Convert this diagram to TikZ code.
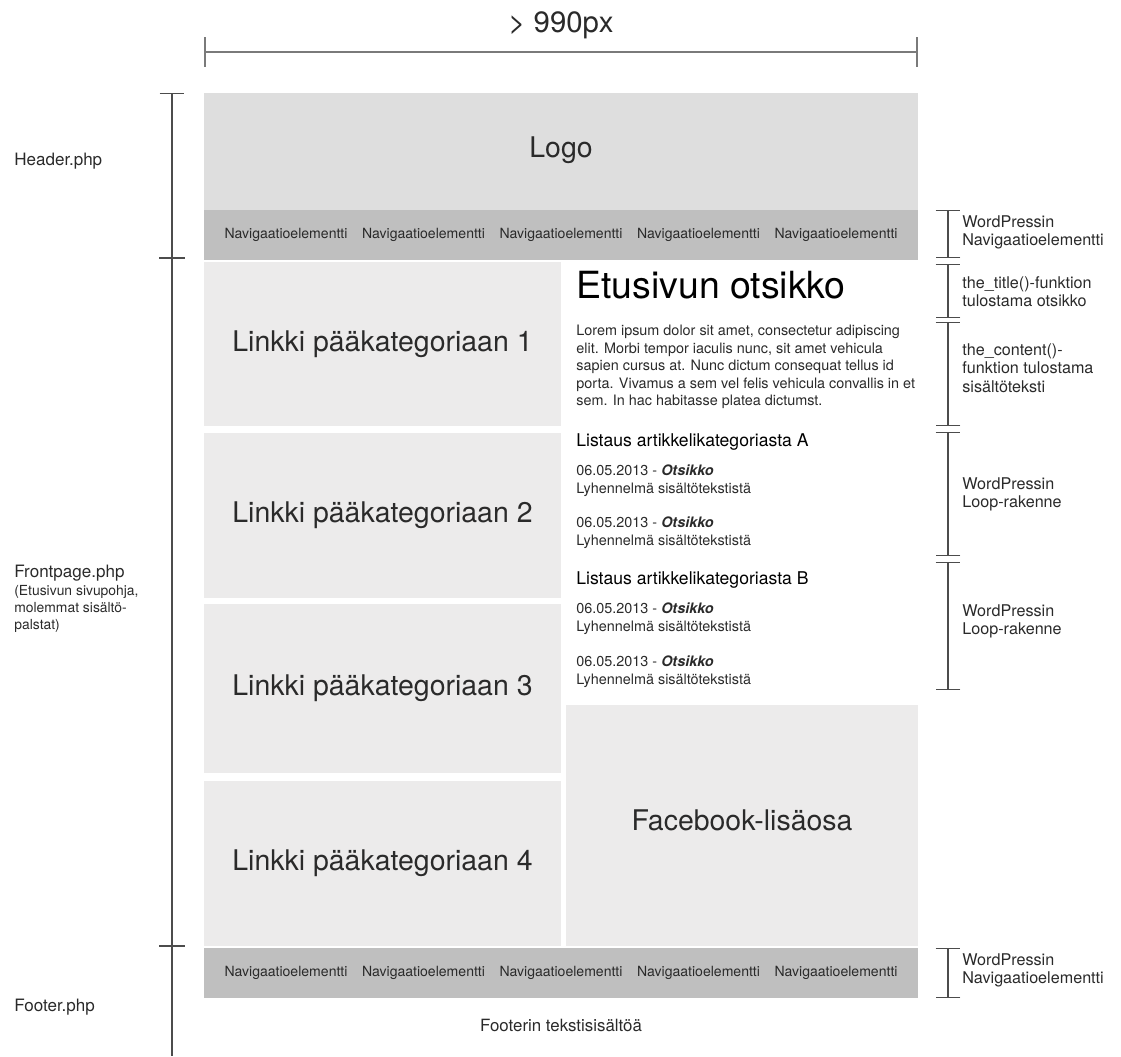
\documentclass[tikz,border=0pt]{standalone}
\usepackage{fontspec}
\setmainfont{TeX Gyre Heros}
\usetikzlibrary{arrows.meta}
\definecolor{logogray}{HTML}{DEDEDE}
\definecolor{navgray}{HTML}{BFBFBF}
\definecolor{boxgray}{HTML}{ECEBEB}
\definecolor{dimgray}{HTML}{7A7A7A}
\definecolor{inkgray}{HTML}{2A2A2A}
\tikzset{
  bigtext/.style={font=\fontsize{16.2}{19}\selectfont, text=inkgray},
  navtext/.style={font=\fontsize{8}{9.6}\selectfont, text=inkgray},
  note/.style={anchor=west, inner sep=0pt, align=left,
    font=\fontsize{9.2}{10.4}\selectfont, text=inkgray},
  filelabel/.style={anchor=west, inner sep=0pt, align=left,
    font=\fontsize{9.7}{11}\selectfont, text=inkgray},
  bodytext/.style={anchor=west, inner sep=0pt, align=left,
    font=\fontsize{8.2}{10}\selectfont, text=inkgray},
  listhead/.style={anchor=west, inner sep=0pt,
    font=\fontsize{10}{12}\selectfont, text=black},
  bracket/.style={draw=black!70, line width=0.7pt,
    {Bar[width=14pt]}-{Bar[width=14pt]}}
}

\begin{document}
\begin{tikzpicture}[x=0.02cm, y=-0.02cm]

\useasboundingbox (0,0) rectangle (1121,1056);

% Width of the page
\draw[dimgray, line width=1.1pt, {Bar[width=17pt]}-{Bar[width=17pt]}]
  (204,52) -- (918,52);
\node[font=\fontsize{16.7}{20}\selectfont, text=inkgray] (width) at (561,25) {> 990px};

% Header: logo and navigation
\fill[logogray] (204,93) rectangle (918,210);
\node[bigtext] (logo) at (561,150) {Logo};
\fill[navgray] (204,210) rectangle (918,260);
\foreach \k [count=\i] in {-2,...,2}
  \node[navtext] (navtop\i) at (561+\k*137.5,235) {Navigaatioelementti};

% Left column: category links
\foreach \top/\bot/\i in {262/426/1, 433/598/2, 604/773/3, 781/946/4} {
  \fill[boxgray] (204,\top) rectangle (561,\bot);
  \node[bigtext] (link\i) at (382.5,{(\top+\bot)/2}) {Linkki pääkategoriaan \i};
}

% Right column: front page content
\node[anchor=west, inner sep=0pt, font=\fontsize{21.3}{25}\selectfont, text=black]
  (title) at (576,285) {Etusivun otsikko};
\node[bodytext] (lorem) at (576,367)
  {Lorem ipsum dolor sit amet, consectetur adipiscing\\
   elit. Morbi tempor iaculis nunc, sit amet vehicula\\
   sapien cursus at. Nunc dictum consequat tellus id\\
   porta. Vivamus a sem vel felis vehicula convallis in et\\
   sem. In hac habitasse platea dictumst.};

\node[listhead] (lista) at (576,442) {Listaus artikkelikategoriasta A};
\node[listhead] (listb) at (576,580) {Listaus artikkelikategoriasta B};
\foreach \y/\name in {481/itema1, 533/itema2, 619/itemb1, 672/itemb2}
  \node[bodytext, font=\fontsize{8.2}{10.2}\selectfont] (\name) at (576,\y)
    {06.05.2013 - \textbf{\textit{Otsikko}}\\Lyhennelmä sisältötekstistä};

\fill[boxgray] (566,705) rectangle (918,946);
\node[bigtext] (facebook) at (742,820) {Facebook-lisäosa};

% Footer
\fill[navgray] (204,948) rectangle (918,998);
\foreach \k [count=\i] in {-2,...,2}
  \node[navtext] (navbottom\i) at (561+\k*137.5,973) {Navigaatioelementti};
\node[font=\fontsize{9.6}{11}\selectfont, text=inkgray] (footertext) at (561,1025)
  {Footerin tekstisisältöä};

% Template files on the left
\draw[black!70, line width=0.7pt, {Bar[width=14pt]}-] (172,93) -- (172,1056);
\draw[black!70, line width=0.7pt] (159,258) -- (185,258) (159,946) -- (185,946);
\node[filelabel] (header) at (14,161) {Header.php};
\node[filelabel] (frontpage) at (14,573) {Frontpage.php};
\node[filelabel, font=\fontsize{7.9}{9.8}\selectfont] (frontnote) at (14,609)
  {(Etusivun sivupohja,\\molemmat sisältö-\\palstat)};
\node[filelabel] (footer) at (14,1007) {Footer.php};

% WordPress parts on the right
\draw[bracket] (948,210) -- (948,258);
\draw[bracket] (948,264) -- (948,318);
\draw[bracket] (948,322) -- (948,426);
\draw[bracket] (948,432) -- (948,556);
\draw[bracket] (948,562) -- (948,690);
\draw[bracket] (948,948) -- (948,998);
\node[note] (navnote) at (962,232) {WordPressin\\Navigaatioelementti};
\node[note] (titlenote) at (962,292) {the\_title()-funktion\\tulostama otsikko};
\node[note] (contentnote) at (962,368) {the\_content()-\\funktion tulostama\\sisältöteksti};
\node[note] (loopa) at (962,494) {WordPressin\\Loop-rakenne};
\node[note] (loopb) at (962,621) {WordPressin\\Loop-rakenne};
\node[note] (footnavnote) at (962,970) {WordPressin\\Navigaatioelementti};

\end{tikzpicture}
\end{document}
